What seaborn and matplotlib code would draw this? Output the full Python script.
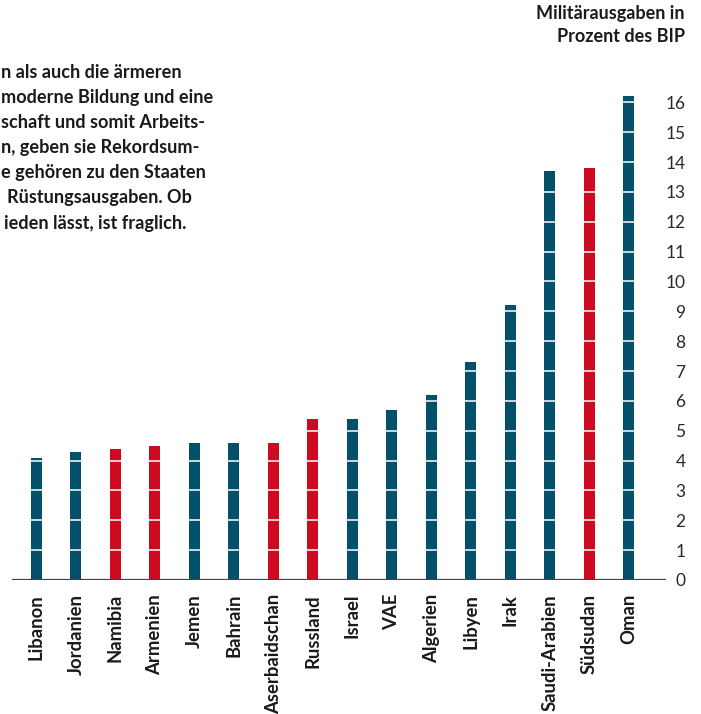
import matplotlib
matplotlib.use("Agg")
import matplotlib.pyplot as plt
import seaborn as sns
import pandas as pd

# Military spending as share of GDP, sorted ascending
countries = ["Libanon", "Jordanien", "Namibia", "Armenien", "Jemen", "Bahrain",
             "Aserbaidschan", "Russland", "Israel", "VAE", "Algerien", "Libyen",
             "Irak", "Saudi-Arabien", "Südsudan", "Oman"]
values = [4.1, 4.3, 4.4, 4.5, 4.6, 4.6, 4.6, 5.4, 5.4, 5.7, 6.2, 7.3, 9.2, 13.7, 13.8, 16.2]
region = ["Nahost", "Nahost", "Andere", "Andere", "Nahost", "Nahost", "Andere", "Andere",
          "Nahost", "Nahost", "Nahost", "Nahost", "Nahost", "Nahost", "Andere", "Nahost"]
y_ticks = list(range(0, 17))

title_lines = ["Militärausgaben in", "Prozent des BIP"]
intro_lines = ["n als auch die ärmeren",
               "moderne Bildung und eine",
               "schaft und somit Arbeits-",
               "n, geben sie Rekordsum-",
               "e gehören zu den Staaten",
               "Rüstungsausgaben. Ob",
               "ieden lässt, ist fraglich."]
# right edge of each text line, in pixels
intro_right = [178, 207, 204, 196, 200, 192, 186]

df = pd.DataFrame({"Land": countries, "Anteil": values, "Gruppe": region})

teal = "#02506a"
red = "#cd0a20"
ink = "#1a1a1a"

sns.set_theme(style="white")
plt.rcParams["font.family"] = ["Lato", "DejaVu Sans"]

W, H = 701, 714
fig = plt.figure(figsize=(W / 100, H / 100), dpi=100)
px_per_unit = 29.85
y_top = 16.5
ax = fig.add_axes([12 / W, 1 - 580 / H, (666 - 12) / W, y_top * px_per_unit / H])

sns.barplot(data=df, x="Land", y="Anteil", hue="Gruppe",
            palette={"Nahost": teal, "Andere": red}, dodge=False, saturation=1,
            width=0.28, legend=False, ax=ax, zorder=2, linewidth=0)

# white separators at every whole percent, across the bars
for v in y_ticks[1:]:
    ax.axhline(v, color="white", lw=1.3, alpha=0.85, zorder=3)
ax.axhline(0, color="#444444", lw=1.6, zorder=4)

ax.set_xlim(-0.62, 15.95)
ax.set_ylim(0, y_top)
for s in ax.spines.values():
    s.set_visible(False)

ax.yaxis.tick_right()
ax.set_yticks(y_ticks)
ax.set_yticklabels([str(t) for t in y_ticks], fontsize=12.5, color="#2a2a2a",
                   ha="right")
ax.tick_params(axis="y", length=0, pad=14)
ax.tick_params(axis="x", length=0, pad=10)
ax.set_xticks(range(len(countries)))
ax.set_xticklabels(countries, rotation=90, fontsize=13.3, fontweight="bold",
                   color=ink, va="top", ha="center")
ax.set_xlabel("")
ax.set_ylabel("")

fig.text(685 / W, 1 - 5 / H, "\n".join(title_lines), ha="right", va="top",
         fontsize=13, fontweight="bold", color=ink, linespacing=1.45)

renderer = fig.canvas.get_renderer()
for i, (line, x1) in enumerate(zip(intro_lines, intro_right)):
    t = fig.text(x1 / W, 1 - (64 + i * 25.1) / H, line, ha="right", va="top",
                 fontsize=13.1, fontweight="bold", color=ink)
    # keep each line inside the left edge of the figure
    bb = t.get_window_extent(renderer)
    if bb.x0 < 1:
        t.set_x((x1 + 1 - bb.x0) / W)

fig.savefig("out.png", dpi=100, facecolor="white")
